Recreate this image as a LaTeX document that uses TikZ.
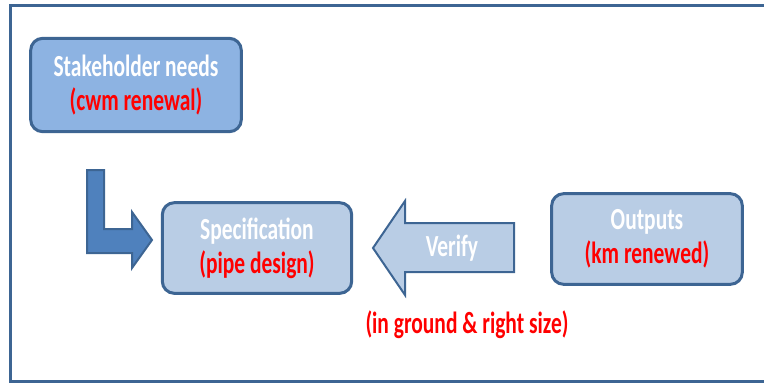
\documentclass[tikz,border=0pt]{standalone}
\usepackage{fontspec}
\setmainfont{Carlito}[FakeStretch=0.7]
\usetikzlibrary{positioning}
\definecolor{boxline}{HTML}{3D6593}
\definecolor{darkfill}{HTML}{8DB3E2}
\definecolor{lightfill}{HTML}{B9CDE5}
\definecolor{bendfill}{HTML}{4F81BD}
\definecolor{notered}{HTML}{FF0000}

\begin{document}
\begin{tikzpicture}[x=0.75pt, y=-0.75pt, >=stealth, semithick]
                        \tikzset{box/.style={draw=boxline, line width=2.25pt, rounded corners=9pt, text=white, align=center, inner sep=0pt, font=\bfseries\fontsize{23}{25.5}\selectfont}};
                        \tikzset{blockarrow/.style={draw=boxline, line width=1.5pt, line join=miter}};
                        \useasboundingbox (0, 0) rectangle (764, 383);
                        \draw[boxline, line width=2.25pt] (764, 5) -- (10, 5) -- (10, 381) -- (764, 381);
                        \node[box, fill=darkfill, minimum width=158pt, minimum height=70pt] (needs) at (136, 85) {Stakeholder needs\\\textcolor{notered}{(cwm renewal)}};
                        \node[box, fill=lightfill, minimum width=142pt, minimum height=68pt] (spec) at (257, 248) {Specification\\\textcolor{notered}{(pipe design)}};
                        \node[box, fill=lightfill, minimum width=143pt, minimum height=68pt] (outputs) at (647, 239) {Outputs\\\textcolor{notered}{(km renewed)}};
                        \draw[blockarrow, fill=bendfill] (87, 170) -- (104, 170) -- (104, 229) -- (132, 229) -- (132, 212) -- (152, 240) -- (132, 268) -- (132, 253) -- (87, 253) -- cycle;
                        \draw[blockarrow, fill=lightfill] (514, 223) -- (405, 223) -- (405, 201) -- (373, 248) -- (405, 295) -- (405, 272) -- (514, 272) -- cycle;
                        \node[text=white, font=\bfseries\fontsize{23}{25.5}\selectfont] (verify) at (452, 248) {Verify};
                        \node[text=notered, font=\bfseries\fontsize{23}{25.5}\selectfont] (check) at (467, 325) {(in ground \& right size)};
                    \end{tikzpicture}
\end{document}
